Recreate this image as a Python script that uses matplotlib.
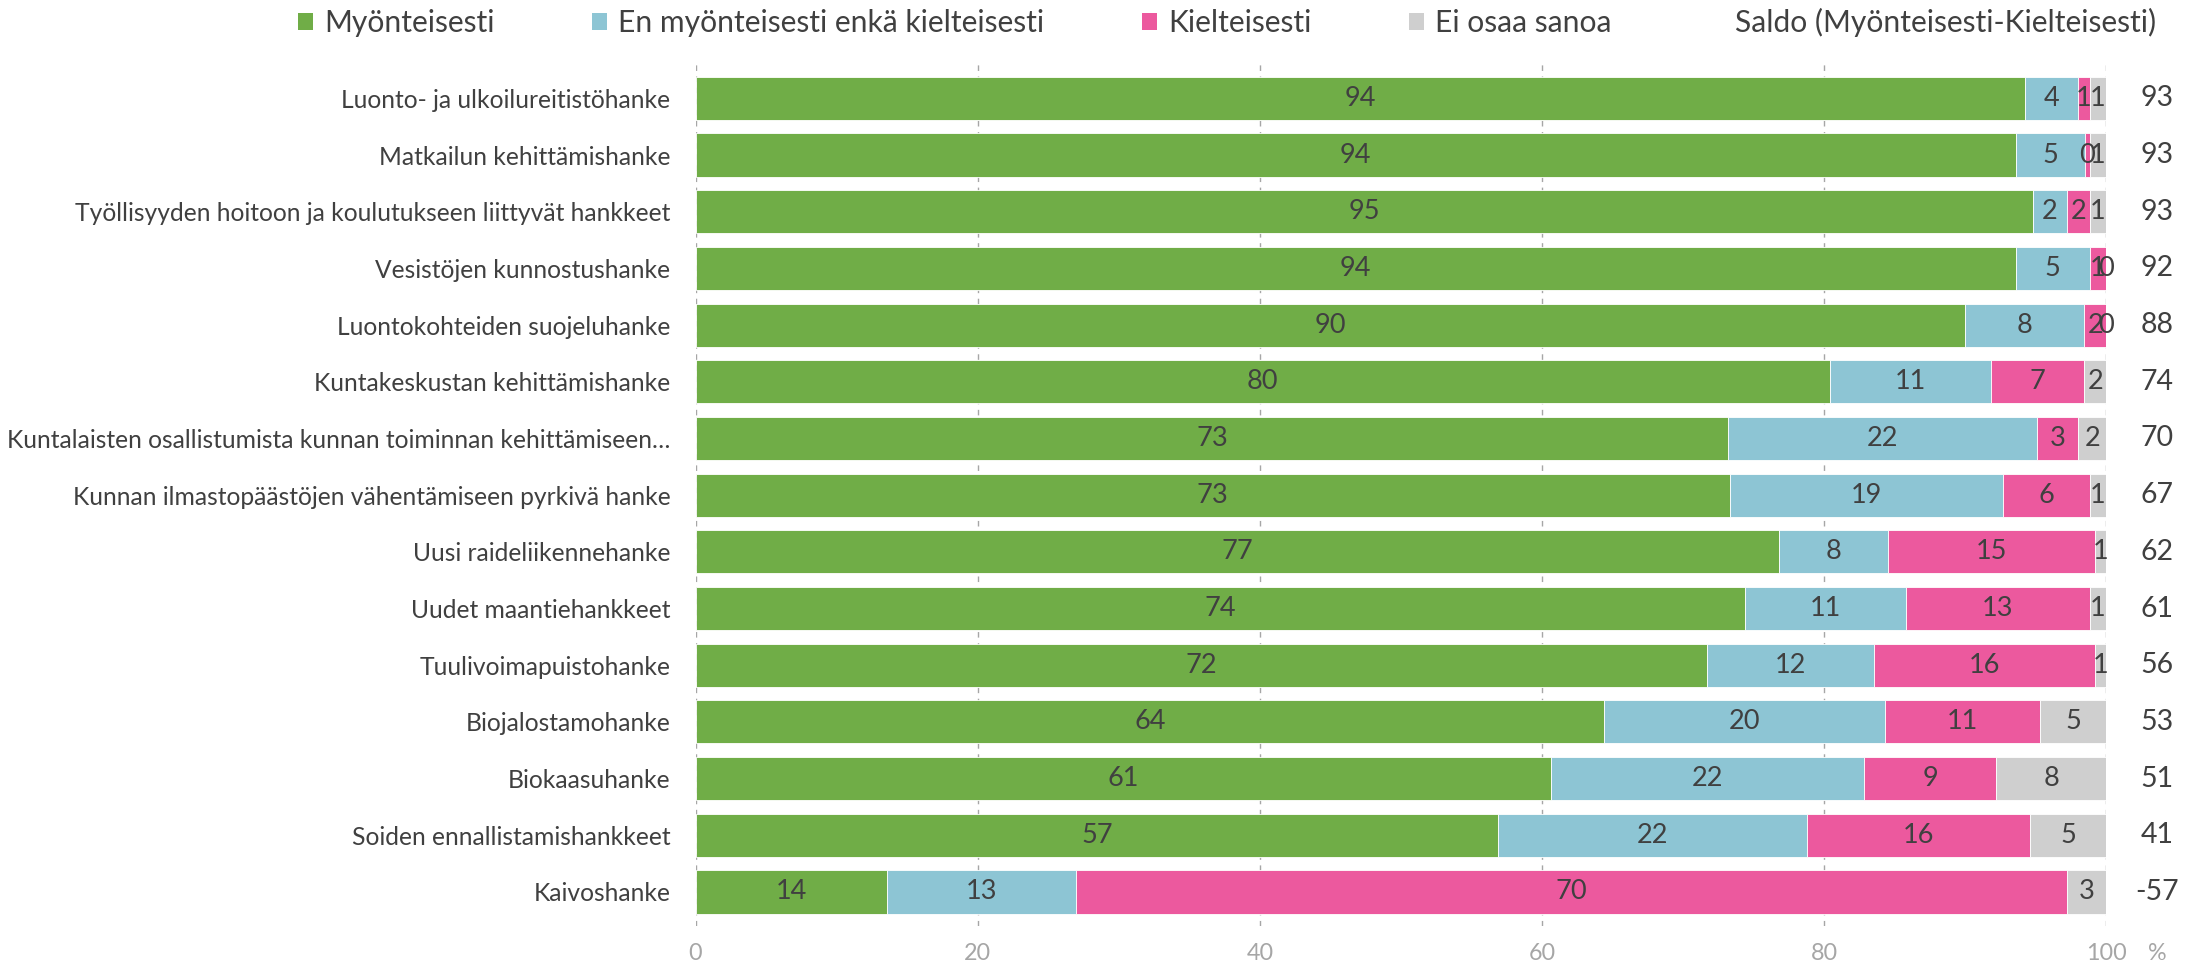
import matplotlib.pyplot as plt
from matplotlib.patches import Patch
import numpy as np

plt.rcParams['font.family'] = ['Lato', 'DejaVu Sans']

categories = [
    'Luonto- ja ulkoilureitistöhanke',
    'Matkailun kehittämishanke',
    'Työllisyyden hoitoon ja koulutukseen liittyvät hankkeet',
    'Vesistöjen kunnostushanke',
    'Luontokohteiden suojeluhanke',
    'Kuntakeskustan kehittämishanke',
    'Kuntalaisten osallistumista kunnan toiminnan kehittämiseen…',
    'Kunnan ilmastopäästöjen vähentämiseen pyrkivä hanke',
    'Uusi raideliikennehanke',
    'Uudet maantiehankkeet',
    'Tuulivoimapuistohanke',
    'Biojalostamohanke',
    'Biokaasuhanke',
    'Soiden ennallistamishankkeet',
    'Kaivoshanke',
]
positive = [94.2, 93.6, 94.8, 93.6, 90.0, 80.4, 73.2, 73.3, 76.8, 74.4, 71.7, 64.4, 60.6, 56.9, 13.6]
neutral = [3.8, 4.9, 2.4, 5.2, 8.4, 11.4, 21.9, 19.4, 7.7, 11.4, 11.8, 19.9, 22.2, 21.9, 13.4]
negative = [0.8, 0.3, 1.6, 1.2, 1.6, 6.6, 2.9, 6.1, 14.7, 13.0, 15.7, 11.0, 9.4, 15.8, 70.2]
dont_know = [1.2, 1.2, 1.2, 0.0, 0.0, 1.6, 2.0, 1.2, 0.8, 1.2, 0.8, 4.7, 7.8, 5.4, 2.8]

series_names = ['Myönteisesti', 'En myönteisesti enkä kielteisesti', 'Kielteisesti', 'Ei osaa sanoa']
colors = ['#70AD47', '#8DC5D4', '#EC599E', '#CFCFCF']
saldo_name = 'Saldo (Myönteisesti-Kielteisesti)'
text_col = '#404040'

fig = plt.figure(figsize=(22.08, 9.66), dpi=100)
ax = fig.add_axes([0.315, 0.0414, 0.954 - 0.315, 0.9334 - 0.0414])

y = np.arange(len(categories))
left = np.zeros(len(categories))
for vals, name, col in zip([positive, neutral, negative, dont_know], series_names, colors):
    vals = np.array(vals)
    ax.barh(y, vals, left=left, height=0.76, color=col, edgecolor='white',
            linewidth=0.6, label=name, zorder=2)
    for yi, l, v in zip(y, left, vals):
        ax.text(l + v / 2, yi, f'{v:.0f}', ha='center', va='center',
                fontsize=19.5, color=text_col, zorder=3)
    left += vals

# saldo column on the right
saldo = np.array(positive) - np.array(negative)
for yi, s in zip(y, saldo):
    ax.text(103.6, yi, f'{s:.0f}', ha='center', va='center', fontsize=20.5,
            color=text_col, clip_on=False)

ax.set_xlim(0, 100)
ax.set_ylim(len(categories) - 0.4, -0.6)
ax.set_xticks(np.arange(0, 101, 20))
ax.set_yticks(y)
ax.set_yticklabels(categories, fontsize=17.7, color=text_col)
ax.tick_params(axis='both', length=0)
ax.tick_params(axis='y', pad=18)
ax.tick_params(axis='x', pad=12, labelsize=16.8, labelcolor='#A6A6A6')
ax.grid(axis='x', color='#A6A6A6', linestyle=(0, (4, 4)), linewidth=1, zorder=0)
ax.set_axisbelow(True)
for sp in ax.spines.values():
    sp.set_visible(False)

ax.annotate('%', xy=(103.6, 0), xycoords=('data', 'axes fraction'), xytext=(0, -12),
            textcoords='offset points', ha='center', va='top', fontsize=16.8, color='#A6A6A6')

# legend: four series plus the saldo entry without a marker
handles = [Patch(facecolor=c) for c in colors] + [Patch(facecolor='none', edgecolor='none')]
labels = series_names + [saldo_name]
fig.legend(handles, labels, loc='center left', bbox_to_anchor=(298 / 2208, 0.977), ncol=5,
           frameon=False, fontsize=21.6, handlelength=0.5, handleheight=0.5,
           handletextpad=0.37, columnspacing=3.25, labelcolor=text_col,
           borderpad=0, borderaxespad=0)

fig.savefig('out.png', dpi=100)
